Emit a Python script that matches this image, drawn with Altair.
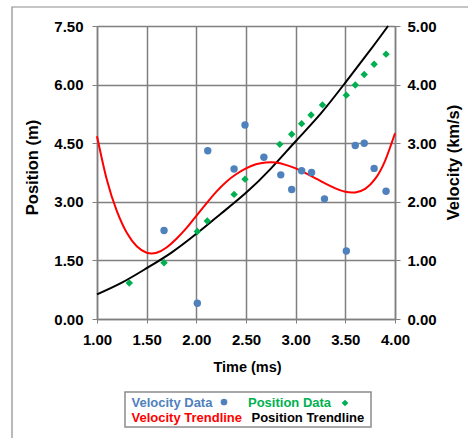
import altair as alt
import pandas as pd

# ---- data ----
vel_t = [1.675, 2.01, 2.115, 2.38, 2.49, 2.68, 2.85, 2.96, 3.06, 3.16, 3.29, 3.51, 3.60, 3.69, 3.79, 3.91]
vel_v = [1.51, 0.27, 2.87, 2.56, 3.31, 2.76, 2.46, 2.21, 2.53, 2.50, 2.05, 1.16, 2.96, 3.00, 2.57, 2.18]

pos_t = [1.325, 1.675, 2.01, 2.11, 2.38, 2.49, 2.84, 2.96, 3.06, 3.155, 3.27, 3.51, 3.60, 3.69, 3.79, 3.91]
pos_p = [0.92, 1.44, 2.24, 2.51, 3.19, 3.58, 4.47, 4.73, 5.00, 5.22, 5.48, 5.73, 5.99, 6.26, 6.52, 6.78]

# trendlines
vtr_t = [1.0, 1.1, 1.2, 1.3, 1.4, 1.5, 1.6, 1.7, 1.8, 1.9, 2.0, 2.1, 2.2, 2.3, 2.4, 2.5,
         2.6, 2.7, 2.8, 2.9, 3.0, 3.1, 3.2, 3.3, 3.4, 3.5, 3.6, 3.7, 3.8, 3.9, 4.0]
vtr_v = [3.12, 2.37, 1.84, 1.47, 1.24, 1.13, 1.13, 1.22, 1.37, 1.55, 1.76, 1.97, 2.17, 2.34, 2.47, 2.57,
         2.64, 2.67, 2.67, 2.63, 2.57, 2.49, 2.40, 2.31, 2.23, 2.17, 2.16, 2.22, 2.39, 2.70, 3.17]

ptr_t = [1.00, 1.25, 1.50, 1.75, 2.00, 2.25, 2.50, 2.75, 3.00, 3.25, 3.50, 3.75, 3.93]
ptr_p = [0.63, 0.93, 1.30, 1.70, 2.18, 2.70, 3.23, 3.85, 4.55, 5.25, 6.05, 6.88, 7.50]

x_ticks = [1.0, 1.5, 2.0, 2.5, 3.0, 3.5, 4.0]
pos_ticks = [0.0, 1.5, 3.0, 4.5, 6.0, 7.5]
vel_ticks = [0.0, 1.0, 2.0, 3.0, 4.0, 5.0]

legend_labels = ["Velocity Data", "Position Data", "Velocity Trendline", "Position Trendline"]

# ---- styling ----
FONT = "Liberation Sans"
BLUE = "#4f81bd"
GREEN = "#00b050"
RED = "#ff0000"
GRID = "#7f7f7f"
W, H = 298, 293

x_enc = alt.X("t:Q", scale=alt.Scale(domain=[1, 4], nice=False, zero=False),
              axis=alt.Axis(values=x_ticks, format=".2f", title="Time (ms)", grid=True,
                            gridColor=GRID, gridWidth=1.5, tickSize=4, tickColor=GRID,
                            domainColor=GRID, domainWidth=1.5, labelPadding=16,
                            labelFlush=False, labelOverlap=False,
                            labelBaseline="middle", titleX=150, titleY=48,
                            titleBaseline="middle", titleFontSize=14.5))

pos_y = alt.Y("p:Q", scale=alt.Scale(domain=[0, 7.5], nice=False),
              axis=alt.Axis(orient="left", values=pos_ticks, format=".2f", title="Position (m)",
                            grid=True, gridColor=GRID, gridWidth=1.5, tickSize=5, tickColor=GRID,
                            domainColor=GRID, domainWidth=1.5, labelPadding=9,
                            labelFlush=False, labelOverlap=False,
                            titleAngle=270, titleX=-65, titleY=141, titleAlign="center",
                            titleBaseline="middle", titleFontSize=16.5))

vel_y = alt.Y("v:Q", scale=alt.Scale(domain=[0, 5], nice=False),
              axis=alt.Axis(orient="right", values=vel_ticks, format=".2f", title="Velocity (km/s)",
                            grid=False, tickSize=5, tickColor=GRID, domainColor=GRID,
                            domainWidth=1.5, labelPadding=7,
                            labelFlush=False, labelOverlap=False,
                            titleAngle=270, titleX=58, titleY=136, titleAlign="center",
                            titleBaseline="middle", titleFontSize=16.5))

pos_pts = pd.DataFrame({"t": pos_t, "p": pos_p})
pos_tr = pd.DataFrame({"t": ptr_t, "p": ptr_p})
vel_pts = pd.DataFrame({"t": vel_t, "v": vel_v})
vel_tr = pd.DataFrame({"t": vtr_t, "v": vtr_v})

black_line = alt.Chart(pos_tr).mark_line(color="black", strokeWidth=2, interpolate="natural").encode(x=x_enc, y=pos_y)
green_pts = alt.Chart(pos_pts).mark_point(shape="diamond", filled=True, color=GREEN, size=55, opacity=1).encode(x=x_enc, y=pos_y)
red_line = alt.Chart(vel_tr).mark_line(color=RED, strokeWidth=2, interpolate="natural").encode(x=x_enc, y=vel_y)
blue_pts = alt.Chart(vel_pts).mark_circle(color=BLUE, size=55, opacity=1).encode(x=x_enc, y=vel_y)

pos_layer = alt.layer(black_line, green_pts)
vel_layer = alt.layer(red_line, blue_pts)

# ---- decorations: outer frame and legend box ----
one = pd.DataFrame({"k": [0]})
frame = alt.Chart(one).mark_rect(fill="transparent", stroke="#8c8c8c", strokeWidth=1.2).encode(
    x=alt.value(-85), x2=alt.value(W + 90), y=alt.value(-19), y2=alt.value(H + 140))
leg_box = alt.Chart(one).mark_rect(fill="white", stroke="#8c8c8c", strokeWidth=1.5).encode(
    x=alt.value(28), x2=alt.value(274), y=alt.value(366), y2=alt.value(401))


def leg_text(label, color, x, y):
    return alt.Chart(pd.DataFrame({"label": [label]})).mark_text(
        align="left", baseline="middle", font=FONT, fontSize=13, fontWeight="bold", color=color
    ).encode(text="label:N", x=alt.value(x), y=alt.value(y))


leg1 = leg_text(legend_labels[0], BLUE, 34.5, 377)
leg2 = leg_text(legend_labels[1], GREEN, 151, 377)
leg3 = leg_text(legend_labels[2], RED, 34.5, 392)
leg4 = leg_text(legend_labels[3], "black", 154.5, 392)
leg_dot = alt.Chart(one).mark_circle(color=BLUE, size=45, opacity=1).encode(x=alt.value(127), y=alt.value(376))
leg_dia = alt.Chart(one).mark_point(shape="diamond", filled=True, color=GREEN, size=45, opacity=1).encode(
    x=alt.value(248), y=alt.value(377))

data_layer = alt.layer(pos_layer, vel_layer).resolve_scale(y="independent")

chart = alt.layer(frame, data_layer, leg_box, leg1, leg2, leg3, leg4, leg_dot, leg_dia).properties(
    width=W, height=H,
    autosize=alt.AutoSizeParams(type="none"),
    padding={"left": 97, "top": 26, "right": 73, "bottom": 119},
    background="white",
).configure_axis(
    labelFont=FONT, labelFontSize=15, labelFontWeight="bold", labelColor="black",
    titleFont=FONT, titleFontWeight="bold", titleColor="black",
).configure_view(stroke="transparent")

chart.save("out.html", embed_options={"renderer": "svg", "actions": False})
